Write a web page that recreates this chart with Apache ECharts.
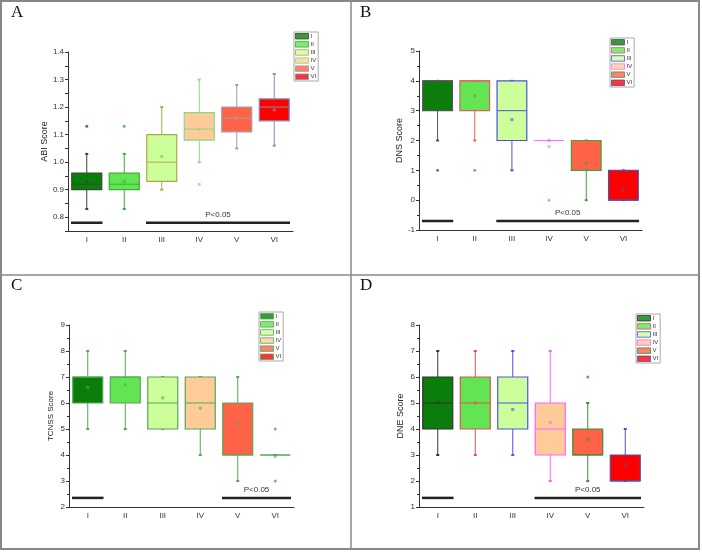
<!DOCTYPE html>
<html>
<head>
<meta charset="utf-8">
<script src="https://cdn.jsdelivr.net/npm/echarts@6.0.0/dist/echarts.min.js"></script>
<style>
  html, body { margin: 0; padding: 0; background: #fff; }
  #chart { width: 702px; height: 552px; }
</style>
</head>
<body>
<div id="chart"></div>
<script>
const groups = ['I', 'II', 'III', 'IV', 'V', 'VI'];

// each box: [low whisker, Q1, median, Q3, high whisker]
const abiBox = [[0.83, 0.90, 0.92, 0.96, 1.03], [0.83, 0.90, 0.92, 0.96, 1.03], [0.90, 0.93, 1.00, 1.10, 1.20],
                [1.00, 1.08, 1.12, 1.18, 1.30], [1.05, 1.11, 1.16, 1.20, 1.28], [1.06, 1.15, 1.20, 1.23, 1.32]];
const abiMean = [0.93, 0.93, 1.02, 1.12, 1.16, 1.19];
const abiOutliers = [[0, 1.13], [1, 1.13], [3, 0.92]];
const abiSig = [[0, 0, 0.78], [2, 5, 0.78]];

const dnsBox = [[2, 3, 4, 4, 4], [2, 3, 4, 4, 4], [1, 2, 3, 4, 4], [2, 2, 2, 2, 2], [0, 1, 2, 2, 2], [0, 0, 0, 1, 1]];
const dnsMean = [3.5, 3.5, 2.7, 1.8, 1.25, 0.35];
const dnsOutliers = [[0, 1], [1, 1], [3, 0]];
const dnsSig = [[0, 0, -0.7], [2, 5, -0.7]];

const tcnssBox = [[5, 6, 7, 7, 8], [5, 6, 7, 7, 8], [5, 5, 6, 7, 7], [4, 5, 6, 7, 7], [3, 4, 4, 6, 7], [4, 4, 4, 4, 4]];
const tcnssMean = [6.6, 6.7, 6.2, 5.8, 5.25, 3.95];
const tcnssOutliers = [[5, 5], [5, 3]];
const tcnssSig = [[0, 0, 2.35], [4, 5, 2.35]];

const dneBox = [[3, 4, 5, 6, 7], [3, 4, 5, 6, 7], [3, 4, 5, 6, 7], [2, 3, 4, 5, 7], [2, 3, 3, 4, 5], [2, 2, 2, 3, 4]];
const dneMean = [5, 5, 4.75, 4.25, 3.6, 2.65];
const dneOutliers = [[4, 6]];
const dneSig = [[0, 0, 1.35], [3, 5, 1.35]];

const sigText = 'P<0.05';

const fills = ['#0a7d0a', '#62e552', '#ccff99', '#ffcc99', '#ff6347', '#ff0000'];

const panels = [
  { letter: 'A', name: 'ABI Score', box: abiBox, mean: abiMean, out: abiOutliers, sig: abiSig,
    min: 0.75, max: 1.4, interval: 0.05, nameSize: 9, nameGap: 17,
    grid: { left: 68, top: 52, width: 225, height: 179 },
    legend: { left: 294, top: 32 }, lx: 11, ly: 4,
    strokes: ['#2d4d2d', '#3daa3d', '#b0a84a', '#88d888', '#a0a0a0', '#7f92b8'] },
  { letter: 'B', name: 'DNS Score', box: dnsBox, mean: dnsMean, out: dnsOutliers, sig: dnsSig,
    min: -1, max: 5, interval: 1, nameSize: 9, nameGap: 14,
    grid: { left: 419, top: 51, width: 223, height: 179 },
    legend: { left: 610, top: 38 }, lx: 360, ly: 4,
    strokes: ['#555555', '#e06060', '#5050e0', '#ff70ff', '#40a040', '#5050b0'] },
  { letter: 'C', name: 'TCNSS Score', box: tcnssBox, mean: tcnssMean, out: tcnssOutliers, sig: tcnssSig,
    min: 2, max: 9, interval: 1, nameSize: 8, nameGap: 14,
    grid: { left: 69, top: 325, width: 225, height: 182 },
    legend: { left: 259, top: 312 }, lx: 11, ly: 277,
    strokes: ['#55a855', '#55a855', '#55a855', '#55a855', '#55a855', '#55a855'] },
  { letter: 'D', name: 'DNE Score', box: dneBox, mean: dneMean, out: dneOutliers, sig: dneSig,
    min: 1, max: 8, interval: 1, nameSize: 9, nameGap: 14,
    grid: { left: 419, top: 325, width: 225, height: 182 },
    legend: { left: 636, top: 314 }, lx: 360, ly: 277,
    strokes: ['#333333', '#e05050', '#5050ee', '#ff60ff', '#3a903a', '#5050b0'] }
];

function boxRender(strokes) {
  return function (params, api) {
    const i = api.value(0);
    const lo = api.coord([i, api.value(1)]);
    const q1 = api.coord([i, api.value(2)]);
    const md = api.coord([i, api.value(3)]);
    const q3 = api.coord([i, api.value(4)]);
    const hi = api.coord([i, api.value(5)]);
    const bw = api.size([1, 0])[0] * 0.8;
    const x = lo[0];
    const stroke = strokes[i];
    const ls = { stroke: stroke, lineWidth: 1 };
    const cap = { stroke: stroke, lineWidth: 2 };
    return {
      type: 'group',
      children: [
        { type: 'line', shape: { x1: x, y1: hi[1], x2: x, y2: q3[1] }, style: ls },
        { type: 'line', shape: { x1: x, y1: q1[1], x2: x, y2: lo[1] }, style: ls },
        { type: 'line', shape: { x1: x - 1.5, y1: hi[1], x2: x + 1.5, y2: hi[1] }, style: cap },
        { type: 'line', shape: { x1: x - 1.5, y1: lo[1], x2: x + 1.5, y2: lo[1] }, style: cap },
        { type: 'rect', shape: { x: x - bw / 2, y: q3[1], width: bw, height: q1[1] - q3[1] },
          style: { fill: fills[i], stroke: stroke, lineWidth: 1.2 } },
        { type: 'line', shape: { x1: x - bw / 2, y1: md[1], x2: x + bw / 2, y2: md[1] }, style: ls }
      ]
    };
  };
}

function sigRender(sig) {
  return function (params, api) {
    const a = api.coord([api.value(0), api.value(2)]);
    const b = api.coord([api.value(1), api.value(2)]);
    const bw = api.size([1, 0])[0];
    const x1 = a[0] - bw * 0.42, x2 = b[0] + bw * 0.42;
    const children = [
      { type: 'line', shape: { x1: x1, y1: a[1], x2: x2, y2: a[1] }, style: { stroke: '#222', lineWidth: 2.5 } }
    ];
    if (sig[params.dataIndex][1] > sig[params.dataIndex][0]) {
      children.push({ type: 'text', x: (x1 + x2) / 2, y: a[1] - 4,
        style: { text: sigText, fontSize: 8, fontFamily: 'Liberation Sans', fill: '#333',
                 align: 'center', verticalAlign: 'bottom' } });
    }
    return { type: 'group', children: children };
  };
}

const grids = [], xAxes = [], yAxes = [], series = [], legends = [];
const graphics = [
  { type: 'rect', shape: { x: 1, y: 1, width: 698, height: 548 }, style: { fill: 'none', stroke: '#888', lineWidth: 2 } },
  { type: 'line', shape: { x1: 351, y1: 1, x2: 351, y2: 549 }, style: { stroke: '#888', lineWidth: 1.5 } },
  { type: 'line', shape: { x1: 1, y1: 275, x2: 699, y2: 275 }, style: { stroke: '#888', lineWidth: 1.5 } }
];

panels.forEach(function (p, k) {
  grids.push(p.grid);
  xAxes.push({
    type: 'category', gridIndex: k, data: groups, boundaryGap: true,
    axisLine: { onZero: false, lineStyle: { color: '#333', width: 1 } },
    axisTick: { alignWithLabel: true, length: 3, lineStyle: { color: '#333' } },
    axisLabel: { fontSize: 8, color: '#333', margin: 5, fontFamily: 'Liberation Sans' },
    splitLine: { show: false }
  });
  yAxes.push({
    type: 'value', gridIndex: k, min: p.min, max: p.max, interval: p.interval,
    name: p.name, nameLocation: 'middle', nameGap: p.nameGap,
    nameTextStyle: { fontSize: p.nameSize, color: '#222', fontFamily: 'Liberation Sans' },
    axisLine: { show: true, lineStyle: { color: '#333', width: 1 } },
    axisTick: { show: true, length: 3, lineStyle: { color: '#333' } },
    minorTick: { show: p.interval === 1, splitNumber: 2, length: 2, lineStyle: { color: '#333' } },
    splitLine: { show: false },
    axisLabel: {
      fontSize: 8, color: '#333', margin: 4, fontFamily: 'Liberation Sans',
      formatter: function (v) {
        if (p.interval === 1) return String(v);
        const t = Math.round(v * 100);
        return (t % 10 === 0 && v > p.min) ? v.toFixed(1) : '';
      }
    }
  });
  series.push({
    type: 'custom', xAxisIndex: k, yAxisIndex: k,
    renderItem: boxRender(p.strokes),
    encode: { x: 0, y: [1, 2, 3, 4, 5] },
    data: p.box.map(function (b, i) { return [i].concat(b); }),
    silent: true, z: 2
  });
  series.push({
    type: 'scatter', xAxisIndex: k, yAxisIndex: k, symbol: 'rect', symbolSize: 3,
    data: p.mean.map(function (m, i) { return [i, m]; }),
    itemStyle: { color: function (prm) { return p.strokes[prm.data[0]]; }, opacity: 0.6 },
    silent: true, z: 3
  });
  series.push({
    type: 'scatter', xAxisIndex: k, yAxisIndex: k, symbol: 'circle', symbolSize: 3,
    data: p.out,
    itemStyle: { color: function (prm) { return p.strokes[prm.data[0]]; }, opacity: 0.8 },
    silent: true, z: 3
  });
  series.push({
    type: 'custom', xAxisIndex: k, yAxisIndex: k,
    renderItem: sigRender(p.sig),
    encode: { x: [0, 1], y: 2 },
    data: p.sig,
    silent: true, z: 4
  });
  legends.push({
    left: p.legend.left, top: p.legend.top, orient: 'vertical', icon: 'rect',
    itemWidth: 13, itemHeight: 5.5, itemGap: 1.6, selectedMode: false,
    padding: [1, 2, 1, 1], borderColor: '#aaa', borderWidth: 1, backgroundColor: '#fff',
    textStyle: { fontSize: 6, color: '#333', fontFamily: 'Liberation Sans', padding: [0, 0, 0, -3] },
    data: groups.map(function (g, i) {
      return { name: g, itemStyle: { color: fills[i], borderColor: p.strokes[i], borderWidth: 1 } };
    })
  });
  graphics.push({ type: 'text', x: p.lx, y: p.ly,
    style: { text: p.letter, fontSize: 17, fontFamily: 'Liberation Serif', fill: '#111' } });
});

// empty series only so the legends have entries
groups.forEach(function (g) {
  series.push({ type: 'scatter', name: g, xAxisIndex: 0, yAxisIndex: 0, data: [] });
});

const chart = echarts.init(document.getElementById('chart'));
chart.setOption({
  animation: false,
  backgroundColor: '#fff',
  grid: grids,
  xAxis: xAxes,
  yAxis: yAxes,
  legend: legends,
  series: series,
  graphic: graphics
});
</script>
</body>
</html>
